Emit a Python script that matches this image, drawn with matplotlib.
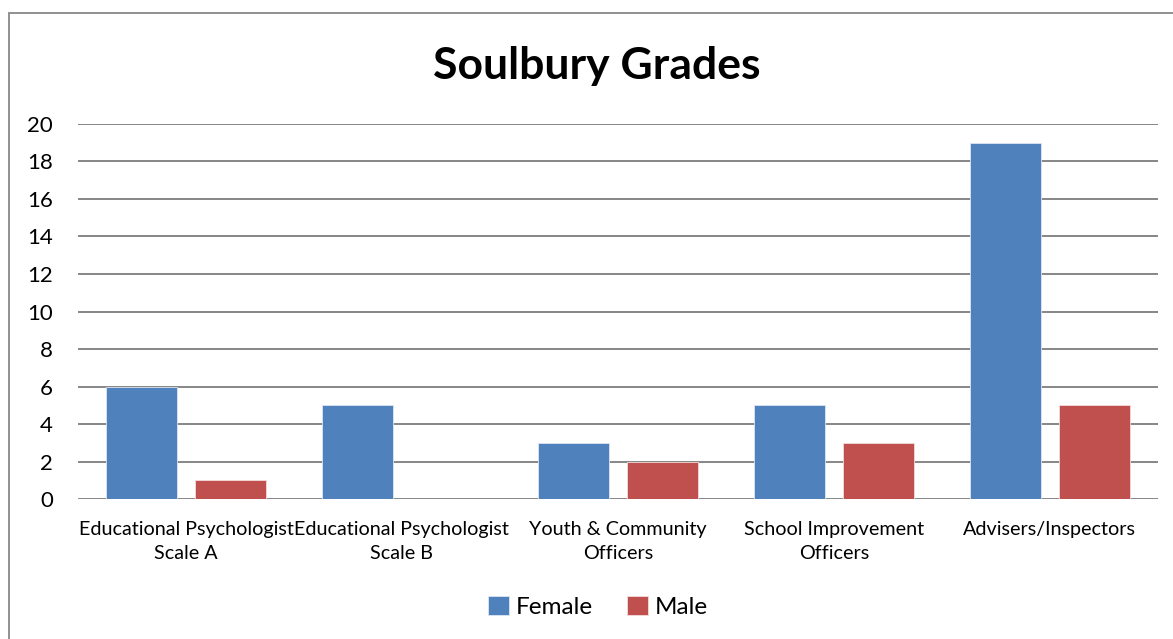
import numpy as np
import matplotlib.pyplot as plt
from matplotlib.patches import Rectangle

categories = ['Educational Psychologist\nScale A', 'Educational Psychologist\nScale B',
              'Youth & Community\nOfficers', 'School Improvement\nOfficers', 'Advisers/Inspectors']
female = [6, 5, 3, 5, 19]
male = [1, 0, 2, 3, 5]

plt.rcParams['font.family'] = ['Lato', 'DejaVu Sans']

fig = plt.figure(figsize=(11.73, 6.39), dpi=100)
ax = fig.add_axes([0.0665, 0.219, 0.9205, 0.587])

x = np.arange(len(categories))
w = 0.33
off = 0.206
ax.bar(x - off, female, w, color='#4F81BD', edgecolor='#dce6f2', linewidth=0.6, label='Female', zorder=3)
ax.bar(x + off, male, w, color='#C0504D', edgecolor='#f2dcdb', linewidth=0.6, label='Male', zorder=3)

ax.set_xlim(-0.5, len(categories) - 0.5)
ax.set_ylim(0, 20)
ax.set_yticks(range(0, 21, 2))
ax.set_xticks(x)
ax.set_xticklabels(categories, fontsize=14.2, linespacing=1.5)
ax.tick_params(axis='y', length=0, pad=18, labelsize=16)
ax.tick_params(axis='x', length=0, pad=15.5)
ax.yaxis.grid(True, color='#868686', linewidth=1.4, zorder=0)
ax.set_axisbelow(True)
for s in ax.spines.values():
    s.set_visible(False)

fig.text(0.509, 0.897, 'Soulbury Grades', ha='center', va='center', fontsize=32, fontweight='bold')

fig.legend(loc='center', bbox_to_anchor=(0.51, 0.05), ncol=2, frameon=False, fontsize=17.5,
           handlelength=0.85, handleheight=0.85, handletextpad=0.3, columnspacing=1.4)

fig.patches.append(Rectangle((9 / 1173, -0.1), 1.2, 0.1 + 1 - 13 / 639, transform=fig.transFigure,
                             fill=False, edgecolor='#888888', linewidth=1.3))

fig.savefig('out.png', dpi=100)
